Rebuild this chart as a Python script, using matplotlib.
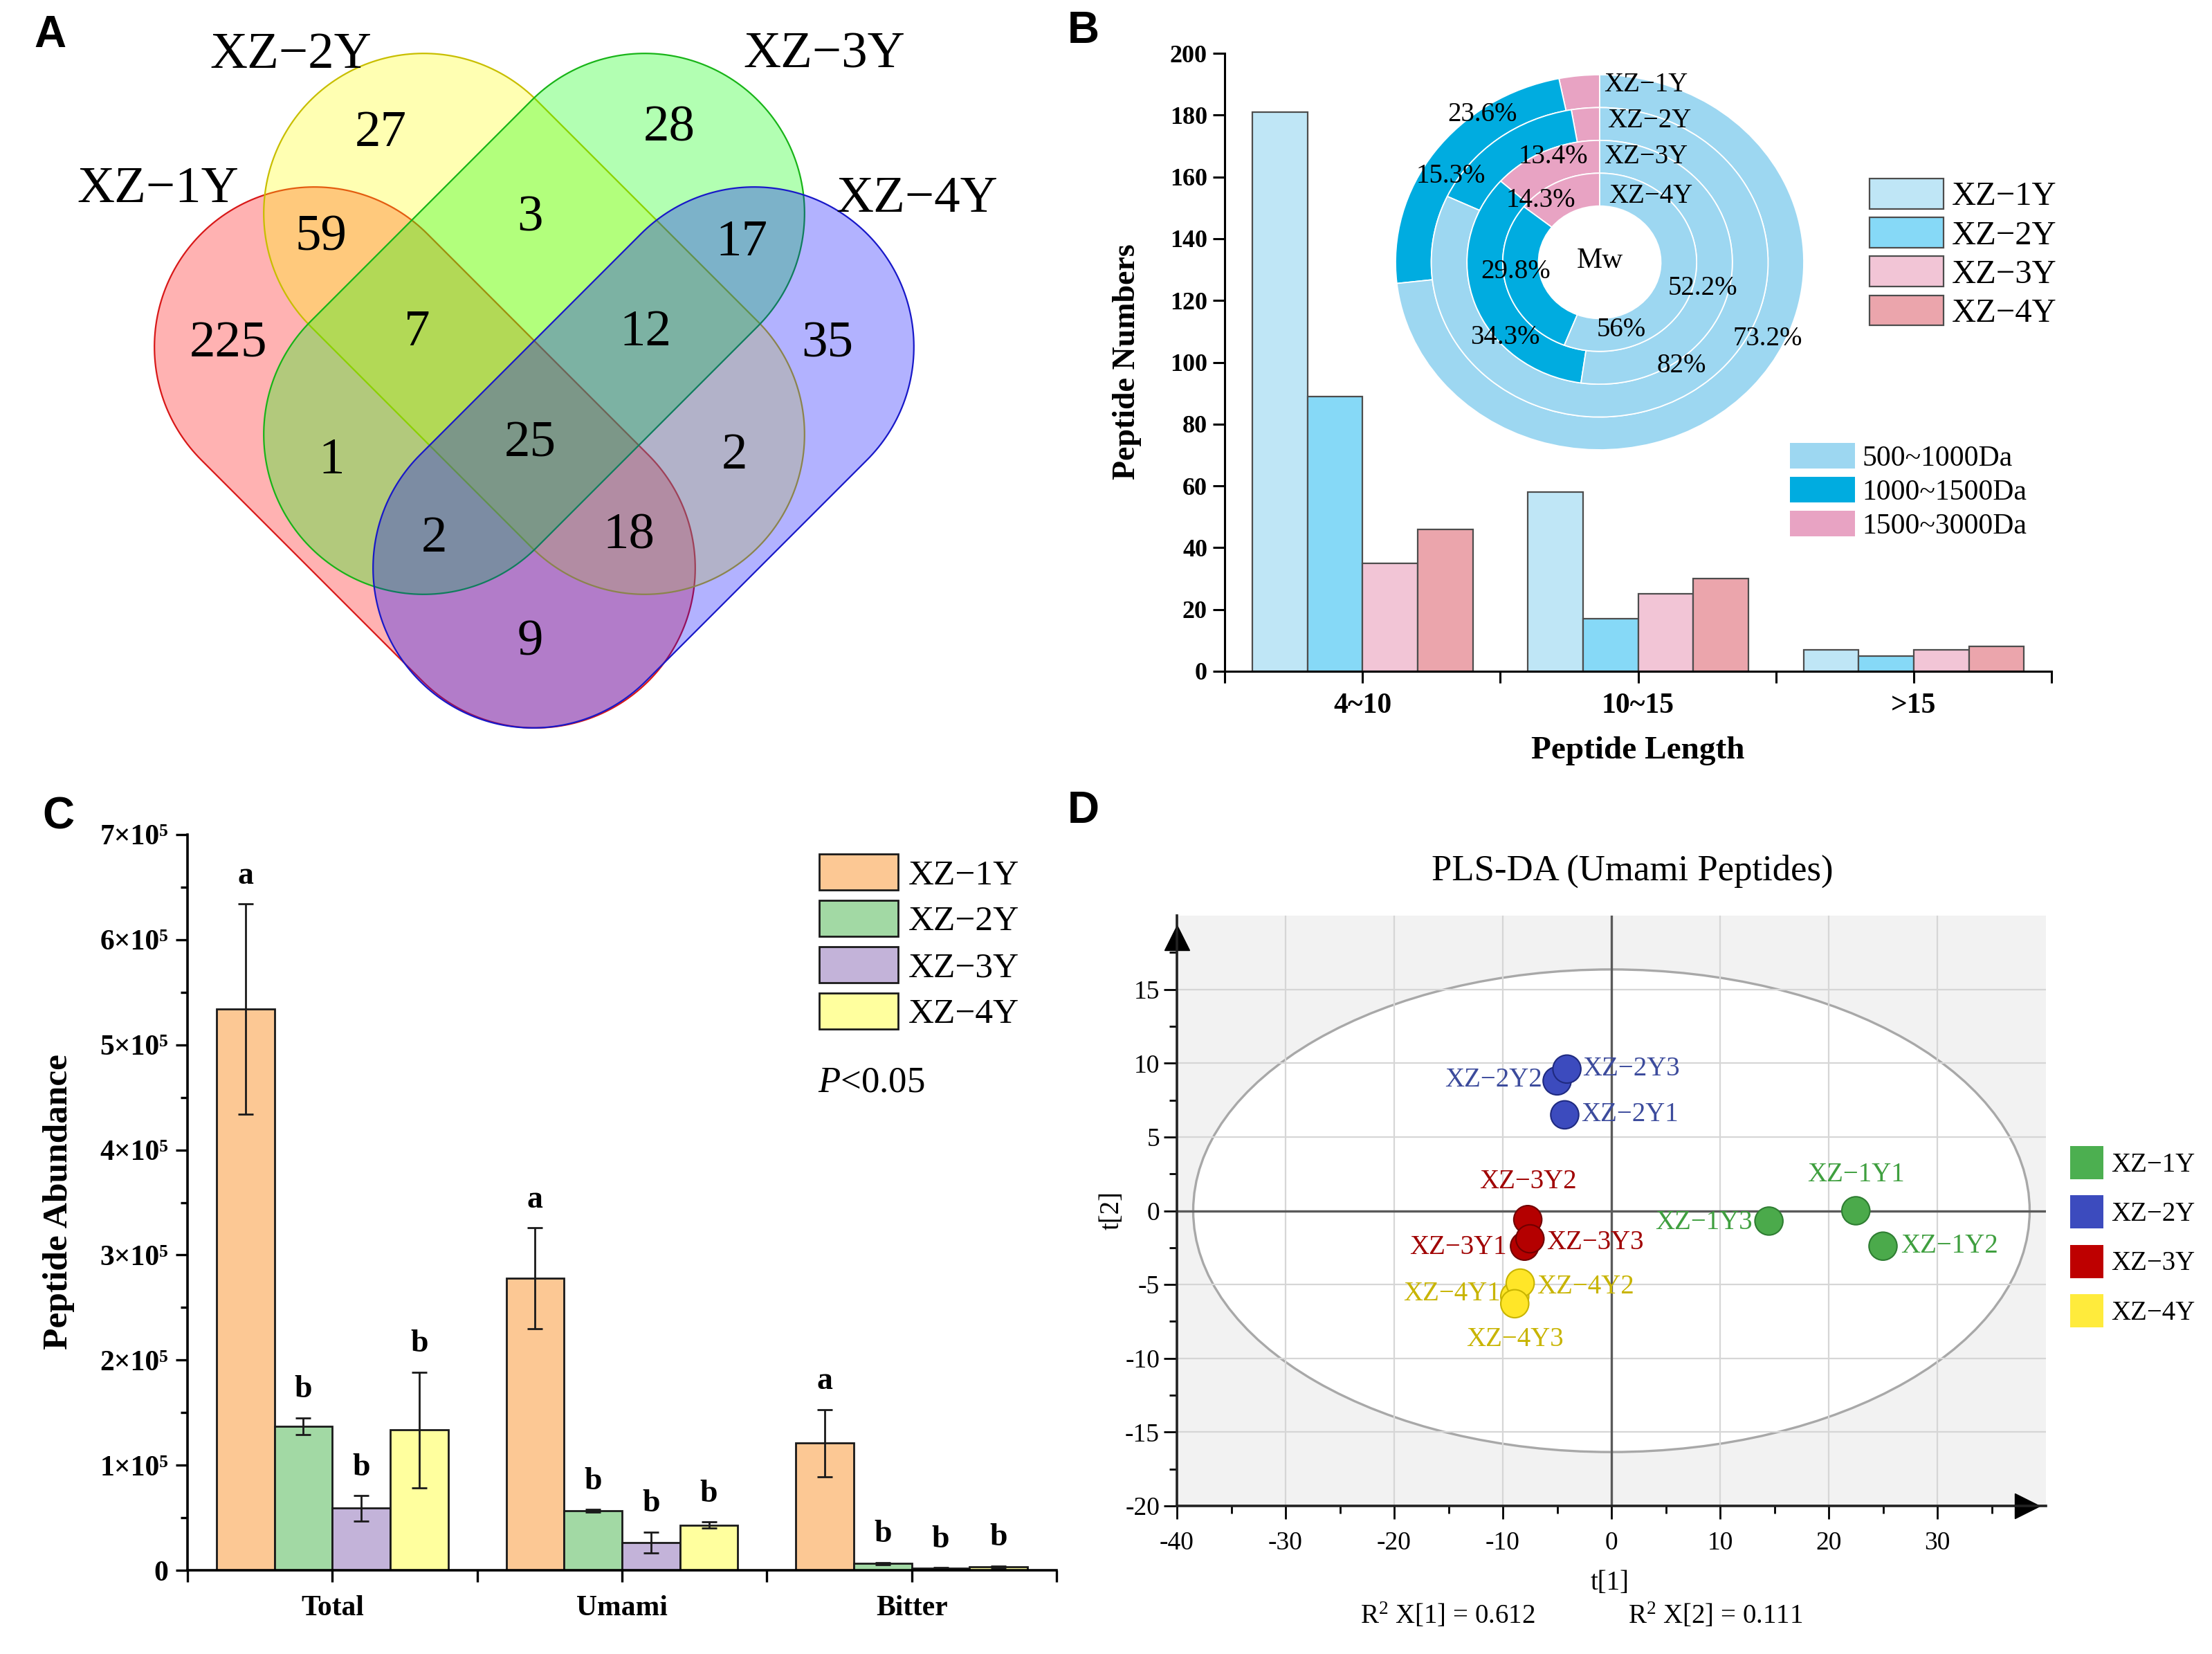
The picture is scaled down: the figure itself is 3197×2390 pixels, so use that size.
import numpy as np
import matplotlib
matplotlib.use('Agg')
import matplotlib.pyplot as plt
from matplotlib.patches import Ellipse, Patch, Polygon
from matplotlib.colors import to_rgba

W, H = 3197, 2390
plt.rcParams['font.family'] = ['Liberation Serif', 'DejaVu Serif']
plt.rcParams['mathtext.fontset'] = 'custom'
plt.rcParams['mathtext.rm'] = 'Liberation Serif'
plt.rcParams['mathtext.it'] = 'Liberation Serif:italic'
plt.rcParams['mathtext.bf'] = 'Liberation Serif:bold'
plt.rcParams['axes.unicode_minus'] = False

# ---------------- data ----------------
# A: Venn diagram
venn_sets = ['XZ−1Y', 'XZ−2Y', 'XZ−3Y', 'XZ−4Y']
venn_regions = ['1', '2', '3', '4', '12', '23', '34', '14', '13', '24',
                '123', '234', '134', '124', '1234']
venn_counts = [225, 27, 28, 35, 59, 3, 17, 9, 1, 2, 7, 12, 2, 18, 25]

# B: peptide length distribution
len_groups = ['4~10', '10~15', '>15']
b_series = ['XZ−1Y', 'XZ−2Y', 'XZ−3Y', 'XZ−4Y']
b_1y = [181, 58, 7]
b_2y = [89, 17, 5]
b_3y = [35, 25, 7]
b_4y = [46, 30, 8]

# B inset: molecular weight distribution (%)
mw_classes = ['500~1000Da', '1000~1500Da', '1500~3000Da']
ring_names = ['XZ−1Y', 'XZ−2Y', 'XZ−3Y', 'XZ−4Y']
mw_500_1000 = [73.2, 82.0, 52.2, 56.0]
mw_1000_1500 = [23.6, 15.3, 34.3, 29.8]
mw_1500_3000 = [3.2, 2.7, 13.4, 14.3]

# C: peptide abundance
c_groups = ['Total', 'Umami', 'Bitter']
c_series = ['XZ−1Y', 'XZ−2Y', 'XZ−3Y', 'XZ−4Y']
c_1y = [5.34e5, 2.78e5, 1.21e5]
c_2y = [1.37e5, 0.566e5, 0.064e5]
c_3y = [0.59e5, 0.265e5, 0.02e5]
c_4y = [1.335e5, 0.43e5, 0.03e5]
c_1y_err = [1.0e5, 0.48e5, 0.32e5]
c_2y_err = [0.08e5, 0.012e5, 0.01e5]
c_3y_err = [0.12e5, 0.10e5, 0.005e5]
c_4y_err = [0.55e5, 0.03e5, 0.01e5]
c_1y_sig = ['a', 'a', 'a']
c_2y_sig = ['b', 'b', 'b']
c_3y_sig = ['b', 'b', 'b']
c_4y_sig = ['b', 'b', 'b']
c_ytick_labels = ['0', '1×10⁵', '2×10⁵', '3×10⁵', '4×10⁵', '5×10⁵', '6×10⁵', '7×10⁵']

# D: PLS-DA scores
d_classes = ['XZ−1Y', 'XZ−2Y', 'XZ−3Y', 'XZ−4Y']
d_names = ['XZ−1Y1', 'XZ−1Y2', 'XZ−1Y3', 'XZ−2Y1', 'XZ−2Y2', 'XZ−2Y3',
           'XZ−3Y1', 'XZ−3Y2', 'XZ−3Y3', 'XZ−4Y1', 'XZ−4Y2', 'XZ−4Y3']
d_t1 = [22.5, 25.0, 14.5, -4.3, -5.0, -4.1, -8.0, -7.7, -7.5, -8.9, -8.4, -8.9]
d_t2 = [0.0, -2.4, -0.7, 6.5, 8.8, 9.6, -2.4, -0.6, -1.9, -5.8, -4.9, -6.3]
d_group = [0, 0, 0, 1, 1, 1, 2, 2, 2, 3, 3, 3]
d_r2x = [0.612, 0.111]

# ---------------- helpers ----------------
fig = plt.figure(figsize=(W / 100, H / 100), dpi=100)


def ax_px(x0, y0, x1, y1):
    return fig.add_axes([x0 / W, 1 - y1 / H, (x1 - x0) / W, (y1 - y0) / H])


def ftext(x, y, s, **kw):
    kw.setdefault('ha', 'center')
    kw.setdefault('va', 'center')
    return fig.text(x / W, 1 - y / H, s, **kw)


def capsule(c, direction, half_len, R, n=120):
    d = np.array(direction, float)
    d /= np.linalg.norm(d)
    c = np.array(c, float)
    c1, c2 = c - d * half_len, c + d * half_len
    phi = np.arctan2(d[1], d[0])
    a2 = np.linspace(phi - np.pi / 2, phi + np.pi / 2, n)
    a1 = np.linspace(phi + np.pi / 2, phi + 3 * np.pi / 2, n)
    return np.vstack([c2 + R * np.c_[np.cos(a2), np.sin(a2)],
                      c1 + R * np.c_[np.cos(a1), np.sin(a1)]])


# ---------------- A: Venn ----------------
axA = ax_px(0, 0, 1560, 1150)
axA.set_xlim(0, 1560)
axA.set_ylim(1150, 0)
axA.axis('off')
venn_fill = ['#FF0000', '#FFFF00', '#00FF00', '#0000FF']
venn_edge = ['#D81818', '#C8BE00', '#18B418', '#1818C8']
venn_centers = [(614, 661), (772, 468), (772, 468), (930, 661)]
venn_dirs = [(1, 1), (1, 1), (1, -1), (1, -1)]
for cen, dr, fc, ec in zip(venn_centers, venn_dirs, venn_fill, venn_edge):
    pts = capsule(cen, dr, 226, 231)
    axA.add_patch(Polygon(pts, closed=True, facecolor=to_rgba(fc, 0.3),
                          edgecolor=ec, linewidth=1.6))
venn_label_pos = [(228, 274), (420, 80), (1191, 80), (1325, 288)]
for (x, y), s in zip(venn_label_pos, venn_sets):
    axA.text(x, y, s, fontsize=54, ha='center', va='center')
venn_pos = {'1': (330, 498), '2': (550, 193), '3': (967, 186), '4': (1196, 498),
            '12': (464, 344), '23': (766, 316), '34': (1072, 351), '14': (766, 929),
            '13': (479, 666), '24': (1062, 659), '123': (603, 481), '234': (933, 481),
            '134': (627, 779), '124': (909, 775), '1234': (766, 642)}
for reg, cnt in zip(venn_regions, venn_counts):
    x, y = venn_pos[reg]
    axA.text(x, y, str(cnt), fontsize=54, ha='center', va='center')

# ---------------- B: bars ----------------
axB = ax_px(1770, 77, 2965, 970)
xb = np.arange(len(len_groups))
offs = [-0.3, -0.1, 0.1, 0.3]
b_colors = ['#BFE6F6', '#86D9F7', '#F2C5D6', '#EBA5AC']
b_vals = [b_1y, b_2y, b_3y, b_4y]
b_handles = []
for i, (vals, col, lab) in enumerate(zip(b_vals, b_colors, b_series)):
    b_handles.append(axB.bar(xb + offs[i], vals, 0.2, color=col, edgecolor='#4d4d4d',
                             linewidth=1.6, label=lab))
axB.set_xlim(-0.5, 2.5)
axB.set_ylim(0, 200)
axB.set_yticks(np.arange(0, 201, 20))
axB.set_xticks(xb, len_groups)
axB.set_xticks([-0.5, 0.5, 1.5, 2.5], minor=True)
for s in ['top', 'right']:
    axB.spines[s].set_visible(False)
for s in ['left', 'bottom']:
    axB.spines[s].set_linewidth(2.2)
axB.tick_params(axis='both', which='both', direction='out', width=2.2, length=12)
axB.tick_params(axis='y', labelsize=26, pad=6)
axB.tick_params(axis='x', labelsize=30, pad=10)
for t in axB.get_xticklabels() + axB.get_yticklabels():
    t.set_fontweight('bold')
ftext(1629, 523, 'Peptide Numbers', rotation=90, fontsize=33, fontweight='bold')
ftext(2367, 1085, 'Peptide Length', fontsize=34, fontweight='bold')

fig.legend(handles=b_handles, labels=b_series, loc='upper left',
           bbox_to_anchor=(2702 / W, 1 - 258 / H), frameon=False, fontsize=35,
           borderpad=0, borderaxespad=0, handlelength=2.2, handleheight=1.0,
           labelspacing=0.16, handletextpad=0.25)

# ---------------- B inset: donut ----------------
axP = ax_px(2017, 108, 2607, 650)
radii = [1.0, 0.825, 0.65, 0.475]
mw_colors = ['#9DD7F1', '#00ACE0', '#E8A3C3']
for r, v5, v10, v15 in zip(radii, mw_500_1000, mw_1000_1500, mw_1500_3000):
    axP.pie([v15, v10, v5], radius=r, colors=[mw_colors[2], mw_colors[1], mw_colors[0]],
            startangle=90, counterclock=True,
            wedgeprops=dict(width=0.175, edgecolor='white', linewidth=1.3))
axP.set_aspect('auto')
axP.set_xlim(-1, 1)
axP.set_ylim(-1, 1)
axP.axis('off')
ring_label_pos = [(0.02, 0.948), (0.037, 0.756), (0.02, 0.561), (0.044, 0.354)]
for (x, y), s in zip(ring_label_pos, ring_names):
    axP.text(x, y, s, fontsize=28, ha='left', va='center')
axP.text(0, 0.007, 'Mw', fontsize=30, ha='center', va='center')
pct_pos = {(0, 1): (-0.576, 0.786), (0, 0): (0.824, -0.406),
           (1, 1): (-0.729, 0.461), (1, 0): (0.40, -0.55),
           (2, 2): (-0.227, 0.561), (2, 1): (-0.464, -0.402), (2, 0): (0.505, -0.14),
           (3, 2): (-0.288, 0.332), (3, 1): (-0.41, -0.048), (3, 0): (0.105, -0.358)}
mw_table = [mw_500_1000, mw_1000_1500, mw_1500_3000]
for (ring, cls), (x, y) in pct_pos.items():
    axP.text(x, y, f'{mw_table[cls][ring]:g}%', fontsize=28, ha='center', va='center')

mw_handles = [Patch(facecolor=c, edgecolor='none') for c in mw_colors]
fig.legend(handles=mw_handles, labels=mw_classes, loc='upper left',
           bbox_to_anchor=(2587 / W, 1 - 640 / H), frameon=False, fontsize=30,
           borderpad=0, borderaxespad=0, handlelength=2.25, handleheight=1.0,
           labelspacing=0.17, handletextpad=0.26)

# ---------------- C: abundance bars ----------------
axC = ax_px(271, 1206, 1527, 2269)
xc = np.arange(len(c_groups))
c_colors = ['#FCC894', '#A2D9A4', '#C3B3D9', '#FFFF9E']
c_vals = [c_1y, c_2y, c_3y, c_4y]
c_errs = [c_1y_err, c_2y_err, c_3y_err, c_4y_err]
c_sigs = [c_1y_sig, c_2y_sig, c_3y_sig, c_4y_sig]
c_handles = []
for i in range(4):
    c_handles.append(axC.bar(xc + offs[i], c_vals[i], 0.2, yerr=c_errs[i], color=c_colors[i],
                             edgecolor='#1a1a1a', linewidth=2.0, capsize=8,
                             error_kw=dict(elinewidth=2.0, capthick=2.0, ecolor='#1a1a1a'),
                             label=c_series[i]))
    for x, v, e, s in zip(xc + offs[i], c_vals[i], c_errs[i], c_sigs[i]):
        axC.annotate(s, (x, v + e), xytext=(0, 14), textcoords='offset points',
                     ha='center', va='bottom', fontsize=33, fontweight='bold')
axC.set_xlim(-0.5, 2.5)
axC.set_ylim(0, 7e5)
axC.set_yticks(np.arange(0, 7.01e5, 1e5), c_ytick_labels)
axC.set_yticks(np.arange(0.5e5, 7e5, 1e5), minor=True)
axC.set_xticks(xc, c_groups)
axC.set_xticks([-0.5, 0.5, 1.5, 2.5], minor=True)
for s in ['top', 'right']:
    axC.spines[s].set_visible(False)
for s in ['left', 'bottom']:
    axC.spines[s].set_linewidth(2.6)
axC.tick_params(axis='both', which='major', direction='out', width=2.4, length=12)
axC.tick_params(axis='y', which='minor', direction='out', width=2.4, length=7)
axC.tick_params(axis='x', which='minor', direction='out', width=2.4, length=12)
axC.tick_params(axis='y', labelsize=30, pad=8)
axC.tick_params(axis='x', labelsize=30, pad=14)
for t in axC.get_xticklabels() + axC.get_yticklabels():
    t.set_fontweight('bold')
ftext(85, 1737, 'Peptide Abundance', rotation=90, fontsize=37, fontweight='bold')
fig.legend(handles=c_handles, labels=c_series, loc='upper left',
           bbox_to_anchor=(1184 / W, 1 - 1234 / H), frameon=False, fontsize=37,
           borderpad=0, borderaxespad=0, handlelength=2.22, handleheight=1.19,
           labelspacing=0.24, handletextpad=0.29)
ftext(1259, 1564, '$\\it{P}$<0.05', fontsize=38)

# ---------------- D: PLS-DA ----------------
axD = ax_px(1701, 1323, 2957, 2176)
axD.set_facecolor('#F2F2F2')
axD.add_patch(Ellipse((0, 0), 77, 32.7, facecolor='white', edgecolor='#A8A8A8',
                      linewidth=2.4, zorder=1))
axD.set_xlim(-40, 40)
axD.set_ylim(-20, 20)
axD.set_xticks(np.arange(-40, 31, 10))
axD.set_xticks(np.arange(-35, 40, 5), minor=True)
axD.set_yticks(np.arange(-20, 16, 5))
axD.set_yticks(np.arange(-17.5, 20, 2.5), minor=True)
axD.grid(True, which='major', color='#D6D6D6', linewidth=1.6)
axD.axhline(0, color='#5a5a5a', linewidth=2.4, zorder=2)
axD.axvline(0, color='#5a5a5a', linewidth=2.4, zorder=2)
for s in ['top', 'right']:
    axD.spines[s].set_visible(False)
for s in ['left', 'bottom']:
    axD.spines[s].set_linewidth(2.6)
    axD.spines[s].set_color('#222222')
axD.tick_params(axis='both', which='major', direction='out', width=2.0, length=14, labelsize=27)
axD.tick_params(axis='both', which='minor', direction='out', width=2.0, length=8)
axD.tick_params(axis='x', pad=12)
axD.tick_params(axis='y', pad=4)
axD.plot([0], [0.9625], marker='^', ms=26, color='black', transform=axD.transAxes, clip_on=False)
axD.plot([0.9785], [0], marker='>', ms=26, color='black', transform=axD.transAxes, clip_on=False)

d_face = ['#4BAA4B', '#3C4BBE', '#B40000', '#FFE628']
d_edge = ['#2E7D32', '#1F2A80', '#700000', '#C8B400']
d_text = ['#3F9F3F', '#3C4B9C', '#A00000', '#C8B400']
axD.scatter(d_t1, d_t2, s=850, c=[d_face[g] for g in d_group],
            edgecolors=[d_edge[g] for g in d_group], linewidths=1.5, zorder=4)
# label offsets in pixels (dx, dy, ha)
d_lab_off = {'XZ−1Y1': (0, 52, 'center'), 'XZ−1Y2': (26, 0, 'left'),
             'XZ−1Y3': (-24, -2, 'right'), 'XZ−2Y1': (24, 0, 'left'),
             'XZ−2Y2': (-22, 1, 'right'), 'XZ−2Y3': (22, 0, 'left'),
             'XZ−3Y1': (-26, -2, 'right'), 'XZ−3Y2': (0, 55, 'center'),
             'XZ−3Y3': (24, -5, 'left'), 'XZ−4Y1': (-20, 4, 'right'),
             'XZ−4Y2': (24, -6, 'left'), 'XZ−4Y3': (0, -52, 'center')}
for n, x, y, g in zip(d_names, d_t1, d_t2, d_group):
    dx, dy, ha = d_lab_off[n]
    axD.annotate(n, (x, y), xytext=(dx * 0.72, dy * 0.72), textcoords='offset points',
                 ha=ha, va='center', fontsize=28, color=d_text[g], zorder=5)
ftext(2359, 1259, 'PLS-DA (Umami Peptides)', fontsize=38)
ftext(2327, 2287, 't[1]', fontsize=28)
ftext(1607, 1749, 't[2]', fontsize=28, rotation=90)
ftext(2092, 2335, 'R$^{2}$ X[1] = %.3f' % d_r2x[0], fontsize=28)
ftext(2479, 2335, 'R$^{2}$ X[2] = %.3f' % d_r2x[1], fontsize=28)
d_leg_col = ['#4CAF50', '#3C4BBE', '#BE0000', '#FFEB3C']
d_handles = [Patch(facecolor=c, edgecolor='none') for c in d_leg_col]
fig.legend(handles=d_handles, labels=d_classes, loc='upper left',
           bbox_to_anchor=(2992 / W, 1 - 1656 / H), frameon=False, fontsize=28,
           borderpad=0, borderaxespad=0, handlelength=1.23, handleheight=1.52,
           labelspacing=0.6, handletextpad=0.28)

# ---------------- panel letters ----------------
for s, (x, y) in zip('ABCD', [(72, 51), (1566, 45), (84, 1181), (1566, 1172)]):
    ftext(x, y, s, fontsize=46, fontweight='bold', family=['Liberation Sans', 'DejaVu Sans'])

fig.savefig('out.png', dpi=100, facecolor='white')
